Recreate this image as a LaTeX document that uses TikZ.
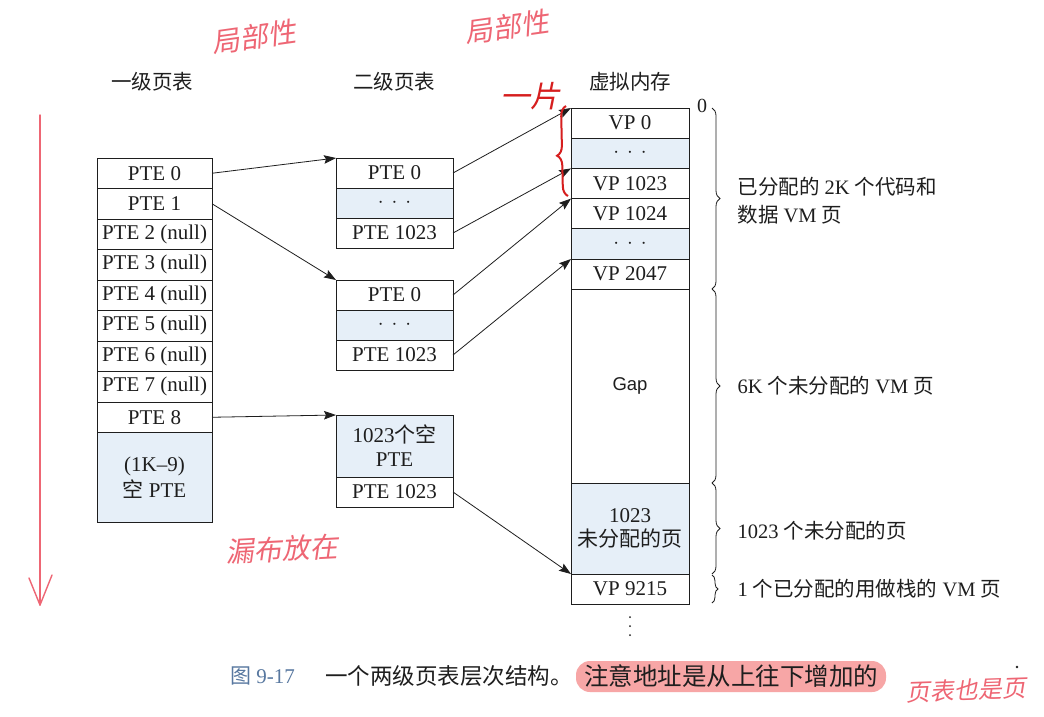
\documentclass[tikz,border=0pt]{standalone}
\usepackage{fontspec}
\setmainfont{Liberation Serif}
\newfontfamily\cjk{Noto Sans CJK SC}
\newfontfamily\hand{Noto Sans CJK SC}[FakeSlant=0.2]
\newfontfamily\gapfont{Liberation Sans}
\usetikzlibrary{arrows.meta,decorations.pathreplacing}
\newcommand\zh[1]{{\cjk #1}}

\definecolor{cellblue}{HTML}{E6EFF8}
\definecolor{inkred}{HTML}{EE6674}
\definecolor{darkred}{HTML}{D61E1E}
\definecolor{hilite}{HTML}{F7A6A6}
\definecolor{capblue}{HTML}{5878A0}
\definecolor{txt}{HTML}{1E1E1E}

\tikzset{
  cell/.style={draw=txt, line width=0.8pt, inner sep=0pt, outer sep=0pt,
    align=center, text=txt, font=\fontsize{21}{25}\selectfont},
  c1/.style={cell, minimum width=115pt, minimum height=30.5pt},
  c2/.style={cell, minimum width=117pt, minimum height=30pt},
  c3/.style={cell, minimum width=118pt, minimum height=30.2pt},
  blue/.style={fill=cellblue},
  link/.style={-{Stealth[length=12pt,width=8.5pt,inset=2pt]}, line width=0.8pt, draw=txt},
  rbrace/.style={decorate, decoration={brace, amplitude=8pt}, line width=0.8pt, draw=txt},
  note/.style={anchor=west, align=left, text=txt, font=\fontsize{20.5}{28}\selectfont},
  head/.style={text=txt, font=\cjk\fontsize{20.5}{24}\selectfont},
  scrawl/.style={text=inkred, font=\hand\fontsize{28}{30}\selectfont},
}

\begin{document}
\begin{tikzpicture}[x=1pt,y=-1pt]
\useasboundingbox (0,0) rectangle (1044,716);
\fill[white] (0,0) rectangle (1044,716);

% column headers
\node[head] (h1) at (152,82) {一级页表};
\node[head] (h2) at (394,82) {二级页表};
\node[head] (h3) at (630,82) {虚拟内存};

% level-1 page table
\node[c1] (a0) at (154.5,173.25) {PTE 0};
\node[c1] (a1) at (154.5,203.75) {PTE 1};
\node[c1] (a2) at (154.5,234.25) {PTE 2 (null)};
\node[c1] (a3) at (154.5,264.75) {PTE 3 (null)};
\node[c1] (a4) at (154.5,295.25) {PTE 4 (null)};
\node[c1] (a5) at (154.5,325.75) {PTE 5 (null)};
\node[c1] (a6) at (154.5,356.25) {PTE 6 (null)};
\node[c1] (a7) at (154.5,386.75) {PTE 7 (null)};
\node[c1] (a8) at (154.5,417.25) {PTE 8};
\node[c1, blue, minimum height=89.5pt, font=\fontsize{21}{26}\selectfont] (a9) at (154.5,477.25) {(1K--9)\\\zh{空} PTE};

% level-2 page tables
\node[c2] (b0) at (394.5,173) {PTE 0};
\node[c2, blue] (b1) at (394.5,203) {$\cdot\,\cdot\,\cdot$};
\node[c2] (b2) at (394.5,233) {PTE 1023};

\node[c2] (c0) at (394.5,295) {PTE 0};
\node[c2, blue] (c1) at (394.5,325) {$\cdot\,\cdot\,\cdot$};
\node[c2] (c2) at (394.5,355) {PTE 1023};

\node[c2, blue, minimum height=62pt, font=\fontsize{21}{24}\selectfont] (d0) at (394.5,446) {1023\zh{个空}\\PTE};
\node[c2] (d1) at (394.5,492) {PTE 1023};

% virtual memory
\node[c3] (v0) at (630,123.1) {VP 0};
\node[c3, blue] (v1) at (630,153.3) {$\cdot\,\cdot\,\cdot$};
\node[c3] (v2) at (630,183.5) {VP 1023};
\node[c3] (v3) at (630,213.7) {VP 1024};
\node[c3, blue] (v4) at (630,243.9) {$\cdot\,\cdot\,\cdot$};
\node[c3] (v5) at (630,274.1) {VP 2047};
\node[c3, minimum height=193.8pt, font=\gapfont\fontsize{18.5}{22}\selectfont] (v6) at (630,386.1) {Gap};
\node[c3, blue, minimum height=91pt, font=\fontsize{21}{24}\selectfont] (v7) at (630,528.5) {1023\\\zh{未分配的页}};
\node[c3, minimum height=30pt] (v8) at (630,589) {VP 9215};
\node[text=txt, font=\fontsize{20}{24}\selectfont, anchor=west, inner sep=0pt] (zero) at (697,106) {0};
\fill[txt] (630,617) circle (1pt) (630,626) circle (1pt) (630,635) circle (1pt);

% pointers level 1 -> level 2
\draw[link] (a0.east) -- (b0.north west);
\draw[link] (a1.east) -- (c0.north west);
\draw[link] (a8.east) -- (d0.north west);

% pointers level 2 -> pages
\draw[link] (b0.east) -- (v0.north west);
\draw[link] (b2.east) -- (v2.north west);
\draw[link] (c0.east) -- (v3.north west);
\draw[link] (c2.east) -- (v5.north west);
\draw[link] (d1.east) -- (v8.north west);

% region braces and notes
\draw[rbrace] (712,108) -- (712,289);
\draw[rbrace] (712,289) -- (712,483);
\draw[rbrace] (712,483) -- (712,574);
\draw[rbrace, decoration={brace, amplitude=6pt}] (712,575) -- (712,603);
\node[note] (n1) at (734,201) {\zh{已分配的} 2K \zh{个代码和}\\\zh{数据} VM \zh{页}};
\node[note] (n2) at (734,386) {6K \zh{个未分配的} VM \zh{页}};
\node[note] (n3) at (734,531) {1023 \zh{个未分配的页}};
\node[note] (n4) at (734,589) {1 \zh{个已分配的用做栈的} VM \zh{页}};

% caption
\fill[hilite, rounded corners=14pt] (576,661) rectangle (886,692);
\node[anchor=west, text=capblue, font=\fontsize{21}{24}\selectfont, inner sep=0pt] (fig) at (230,676) {\zh{图} 9-17};
\node[anchor=west, text=txt, font=\cjk\fontsize{22.5}{24}\selectfont, inner sep=0pt] (cap) at (325,676) {一个两级页表层次结构。};
\node[anchor=west, text=txt, font=\cjk\fontsize{24.5}{26}\selectfont, inner sep=0pt] (capb) at (584,676) {注意地址是从上往下增加的};

% hand-written notes
\draw[inkred, line width=1.4pt, line cap=round] (40,115) -- (40,605);
\draw[inkred, line width=1.4pt, line cap=round, line join=round] (29,578) -- (40,605) -- (52,575);
\node[scrawl, rotate=8] (w1) at (254,37) {局部性};
\node[scrawl, rotate=8] (w2) at (507,27) {局部性};
\node[scrawl, rotate=3] (w3) at (282,549) {漏布放在};
\node[scrawl, rotate=2, font=\hand\fontsize{24}{26}\selectfont] (w4) at (966,690) {页表也是页};
\node[text=darkred, font=\hand\fontsize{30}{32}\selectfont] (w5) at (530,96) {一片};
\draw[darkred, line width=2pt, decorate, decoration={brace, amplitude=10pt, aspect=0.45}] (568,196) -- (566,106);
\fill[txt] (1017,667) circle (1.3pt);
\end{tikzpicture}
\end{document}
